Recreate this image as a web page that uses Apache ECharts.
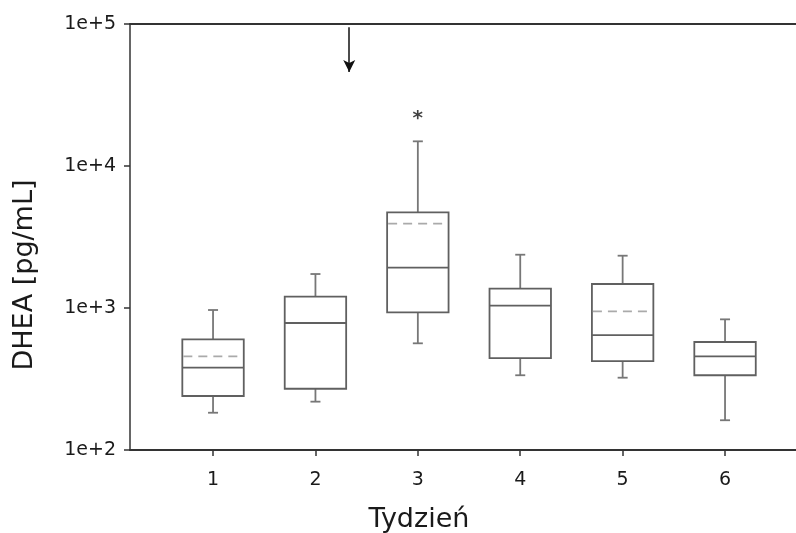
<!DOCTYPE html>
<html>
<head>
<meta charset="utf-8">
<script src="https://cdn.jsdelivr.net/npm/echarts@6/dist/echarts.min.js"></script>
<style>html,body{margin:0;padding:0;background:#fff}#c{width:796px;height:533px}</style>
</head>
<body>
<div id="c"></div>
<script>
const weeks = [1, 2, 3, 4, 5, 6];
const tickLabels = ['1', '2', '3', '4', '5', '6'];
const whiskerLow = [183, 219, 564, 336, 323, 162];
const q1 = [240, 270, 933, 444, 423, 336];
const median = [380, 784, 1922, 1038, 645, 457];
const q3 = [602, 1202, 4720, 1368, 1476, 576];
const whiskerHigh = [968, 1735, 14920, 2373, 2335, 832];
const mean = [457, null, 3925, null, 948, null];
const starPoint = [[3, 21500]];
const arrowX = 2.33;
const arrowFrom = 95000;
const arrowTo = 46000;
const xTitle = 'Tydzień';
const yTitle = 'DHEA [pg/mL]';

const boxData = weeks.map((w, i) => [w, whiskerLow[i], q1[i], median[i], q3[i], whiskerHigh[i], mean[i] == null ? NaN : mean[i]]);
const BOX_W = 0.6;
const BOX_COLOR = '#606060';
const WHISK_COLOR = '#777';

function renderBox(params, api) {
  const x = api.value(0);
  const lo = api.value(1), a = api.value(2), m = api.value(3), b = api.value(4), hi = api.value(5), mn = api.value(6);
  const pL = api.coord([x - BOX_W / 2, a]);
  const pR = api.coord([x + BOX_W / 2, b]);
  const cx = api.coord([x, a])[0];
  const yA = pL[1], yB = pR[1];
  const yM = api.coord([x, m])[1];
  const yLo = api.coord([x, lo])[1];
  const yHi = api.coord([x, hi])[1];
  const capHalf = 5;
  const children = [
    {type: 'line', shape: {x1: cx, y1: yB, x2: cx, y2: yHi}, style: {stroke: WHISK_COLOR, lineWidth: 1.8}},
    {type: 'line', shape: {x1: cx - capHalf, y1: yHi, x2: cx + capHalf, y2: yHi}, style: {stroke: WHISK_COLOR, lineWidth: 1.8}},
    {type: 'line', shape: {x1: cx, y1: yA, x2: cx, y2: yLo}, style: {stroke: WHISK_COLOR, lineWidth: 1.8}},
    {type: 'line', shape: {x1: cx - capHalf, y1: yLo, x2: cx + capHalf, y2: yLo}, style: {stroke: WHISK_COLOR, lineWidth: 1.8}},
    {type: 'rect', shape: {x: pL[0], y: yB, width: pR[0] - pL[0], height: yA - yB}, style: {fill: 'none', stroke: BOX_COLOR, lineWidth: 1.8}},
    {type: 'line', shape: {x1: pL[0], y1: yM, x2: pR[0], y2: yM}, style: {stroke: BOX_COLOR, lineWidth: 1.8}}
  ];
  if (!isNaN(mn)) {
    const yMn = api.coord([x, mn])[1];
    children.push({type: 'line', shape: {x1: pL[0] + 1, y1: yMn, x2: pR[0] - 1, y2: yMn}, style: {stroke: '#aaa', lineWidth: 1.8, lineDash: [9, 6]}});
  }
  return {type: 'group', children};
}

const chart = echarts.init(document.getElementById('c'), null, {renderer: 'canvas'});
chart.setOption({
  animation: false,
  backgroundColor: '#fff',
  grid: {left: 130, top: 24, right: 0, bottom: 83, containLabel: false},
  xAxis: [{
    type: 'value', min: 0.189, max: 6.693, position: 'bottom',
    axisLine: {show: true, lineStyle: {color: '#333', width: 2}},
    axisTick: {show: true, customValues: weeks, length: 6, lineStyle: {color: '#333', width: 1.5}},
    axisLabel: {show: true, customValues: weeks, margin: 21, fontFamily: 'DejaVu Sans', fontSize: 19, color: '#1a1a1a',
      formatter: v => tickLabels[weeks.indexOf(Math.round(v))] || ''},
    splitLine: {show: false}
  }, {
    type: 'value', min: 0.189, max: 6.693, position: 'top',
    axisLine: {show: true, onZero: false, lineStyle: {color: '#333', width: 2}},
    axisTick: {show: false}, axisLabel: {show: false}, splitLine: {show: false}
  }],
  yAxis: {
    type: 'log', logBase: 10, min: 100, max: 100000,
    axisLine: {show: true, lineStyle: {color: '#333', width: 1.5}},
    axisTick: {show: true, length: 6, lineStyle: {color: '#333', width: 1.5}},
    minorTick: {show: false},
    splitLine: {show: false},
    axisLabel: {margin: 14, fontFamily: 'DejaVu Sans', fontSize: 19, color: '#1a1a1a',
      formatter: v => '1e+' + Math.round(Math.log10(v))}
  },
  graphic: [
    {type: 'text', x: 419, y: 520, style: {text: xTitle, fontFamily: 'DejaVu Sans', fontSize: 27, fill: '#1a1a1a', align: 'center', verticalAlign: 'middle'}},
    {type: 'text', x: 25, y: 275, rotation: Math.PI / 2, style: {text: yTitle, fontFamily: 'DejaVu Sans', fontSize: 27, fill: '#1a1a1a', align: 'center', verticalAlign: 'middle'}}
  ],
  series: [{
    type: 'custom', renderItem: renderBox, data: boxData, xAxisIndex: 0, yAxisIndex: 0,
    encode: {x: 0, y: [1, 2, 3, 4, 5]}, z: 3
  }, {
    type: 'scatter', data: starPoint, symbolSize: 1, itemStyle: {color: 'rgba(0,0,0,0)'},
    label: {show: true, formatter: '*', position: 'inside', fontFamily: 'DejaVu Sans', fontSize: 20, fontWeight: 'bold', color: '#111'},
    markLine: {
      silent: true, symbol: ['none', 'arrow'], symbolSize: [9, 12],
      lineStyle: {color: '#111', width: 1.5, type: 'solid'}, label: {show: false},
      data: [[{coord: [arrowX, arrowFrom]}, {coord: [arrowX, arrowTo]}]]
    }
  }]
});
</script>
</body>
</html>
